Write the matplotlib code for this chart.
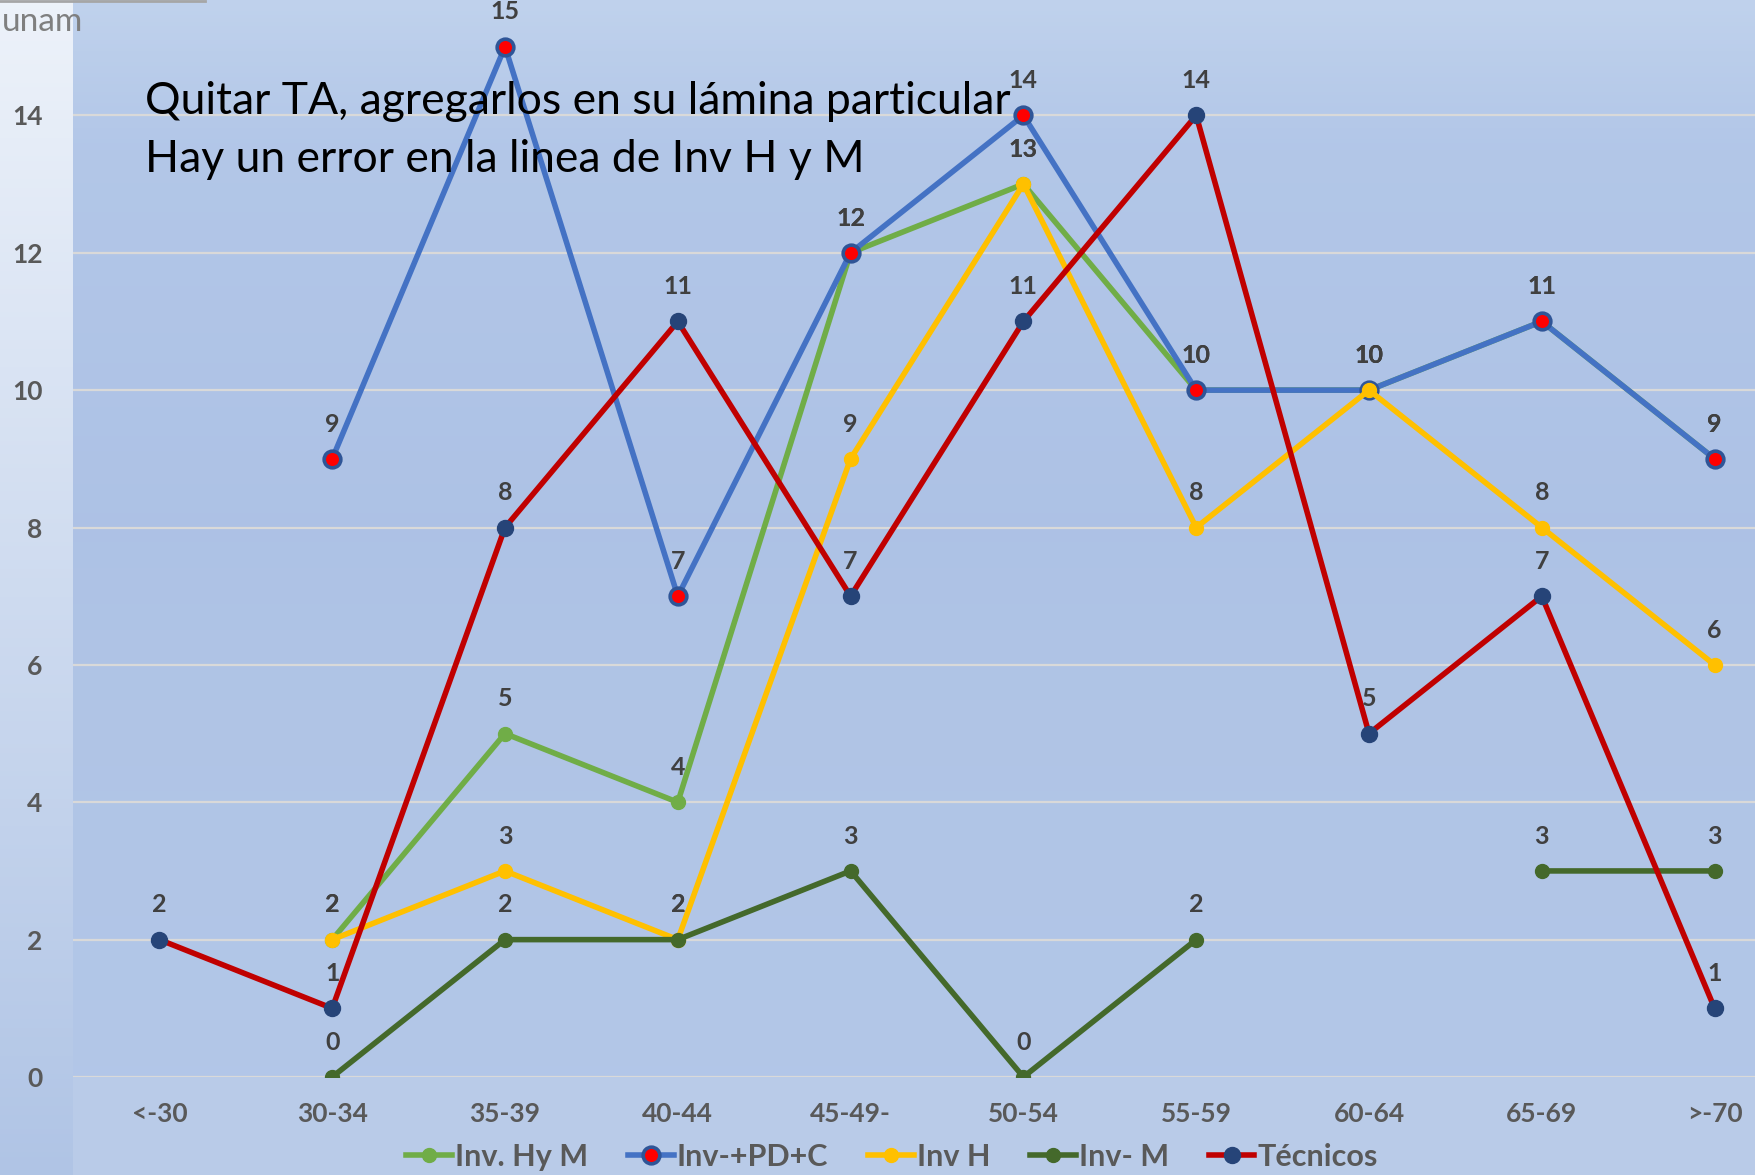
import matplotlib
matplotlib.use('Agg')
import matplotlib.pyplot as plt
from matplotlib.lines import Line2D
import numpy as np

plt.rcParams['font.family'] = ['Lato', 'DejaVu Sans']

categories = ['<-30', '30-34', '35-39', '40-44', '45-49-', '50-54', '55-59', '60-64', '65-69', '>-70']
nan = np.nan
inv_hym = [nan, 2, 5, 4, 12, 13, 10, 10, 11, 9]
inv_pdc = [nan, 9, 15, 7, 12, 14, 10, 10, 11, 9]
inv_h = [nan, 2, 3, 2, 9, 13, 8, 10, 8, 6]
inv_m = [nan, 0, 2, 2, 3, 0, 2, nan, 3, 3]
tecnicos = [2, 1, 8, 11, 7, 11, 14, 5, 7, 1]

series = [
    ('Inv. Hy M', inv_hym, dict(color='#70AD47', marker='o', markersize=10, markerfacecolor='#70AD47', markeredgecolor='#70AD47')),
    ('Inv-+PD+C', inv_pdc, dict(color='#4472C4', marker='o', markersize=12, markerfacecolor='#FF0000', markeredgecolor='#2F5597', markeredgewidth=2.6)),
    ('Inv H', inv_h, dict(color='#FFC000', marker='o', markersize=10, markerfacecolor='#FFC000', markeredgecolor='#FFC000')),
    ('Inv- M', inv_m, dict(color='#44692B', marker='o', markersize=10, markerfacecolor='#44692B', markeredgecolor='#44692B')),
    ('Técnicos', tecnicos, dict(color='#C00000', marker='o', markersize=11.5, markerfacecolor='#264478', markeredgecolor='#264478')),
]

W, H = 1756, 1175
fig = plt.figure(figsize=(W / 100, H / 100), dpi=100)
fig.patch.set_facecolor('#B9CBE8')

# left light panel
pan = fig.add_axes([0, 0, 73 / W, 1])
pan.axis('off')
tp = np.linspace(0, 1, 256)[:, None]
c_top = np.array([0.93, 0.95, 0.98])
c_bot = np.array([0.69, 0.77, 0.90])
grad = c_top[None, None, :] * (1 - tp[..., None]) + c_bot[None, None, :] * tp[..., None]
pan.imshow(grad, aspect='auto', extent=[0, 1, 0, 1])

ax = fig.add_axes([73 / W, 98 / H, 1728 / W, 1099 / H])
x = np.arange(len(categories))

# plot area gradient
ys = np.linspace(1, 0, 300)
stops = [0, 0.35, 0.5, 0.85, 1.0]
cols = np.array([[0.70, 0.78, 0.91], [0.69, 0.77, 0.90], [0.68, 0.76, 0.90], [0.70, 0.78, 0.91], [0.76, 0.83, 0.93]])
bg = np.stack([np.interp(ys, stops, cols[:, k]) for k in range(3)], axis=-1)[:, None, :]
ax.imshow(bg, aspect='auto', extent=[-0.5, 9.5, 0, 16], zorder=0)

ax.set_xlim(-0.5, 9.5)
ax.set_ylim(0, 16)
ax.set_yticks(range(0, 15, 2))
ax.set_xticks(x)
ax.set_xticklabels(categories)
ax.grid(axis='y', color='#D9D9D9', linewidth=1.6, zorder=1)
ax.set_axisbelow(False)
for s in ax.spines.values():
    s.set_visible(False)
ax.tick_params(length=0, labelsize=19, labelcolor='#595959')
ax.tick_params(axis='y', pad=22)
ax.tick_params(axis='x', pad=18)
for lab in ax.get_xticklabels() + ax.get_yticklabels():
    lab.set_fontweight('bold')

handles = []
for name, vals, st in series:
    ln, = ax.plot(x, vals, linewidth=4, label=name, zorder=3, **st)
    handles.append(ln)
    for xi, v in zip(x, vals):
        if not np.isnan(v):
            ax.annotate(str(int(v)), (xi, v), xytext=(0, 25), textcoords='offset points',
                        ha='center', va='center', fontsize=18, fontweight='bold',
                        color='#404040', zorder=5)

leg = fig.legend(handles=handles, loc='center', bbox_to_anchor=(892 / W, 1 - 1157 / H),
                 ncol=5, frameon=False, fontsize=22, handlelength=1.5, columnspacing=1.3,
                 handletextpad=0.1, numpoints=1)
for t in leg.get_texts():
    t.set_color('#595959')
    t.set_fontweight('bold')

fig.text(145 / W, 1 - 102 / H, 'Quitar TA, agregarlos en su lámina particular',
         fontsize=32, color='black', va='center', ha='left')
fig.text(145 / W, 1 - 160 / H, 'Hay un error en la linea de Inv H y M',
         fontsize=32, color='black', va='center', ha='left')

fig.text(2 / W, 1 - 22 / H, 'unam', fontsize=24, color='#7F7F7F', ha='left', va='center')
fig.add_artist(Line2D([0, 205 / W], [1 - 1 / H, 1 - 1 / H], color='#A6A6A6', linewidth=2))

fig.savefig('out.png', dpi=100, facecolor=fig.get_facecolor())
